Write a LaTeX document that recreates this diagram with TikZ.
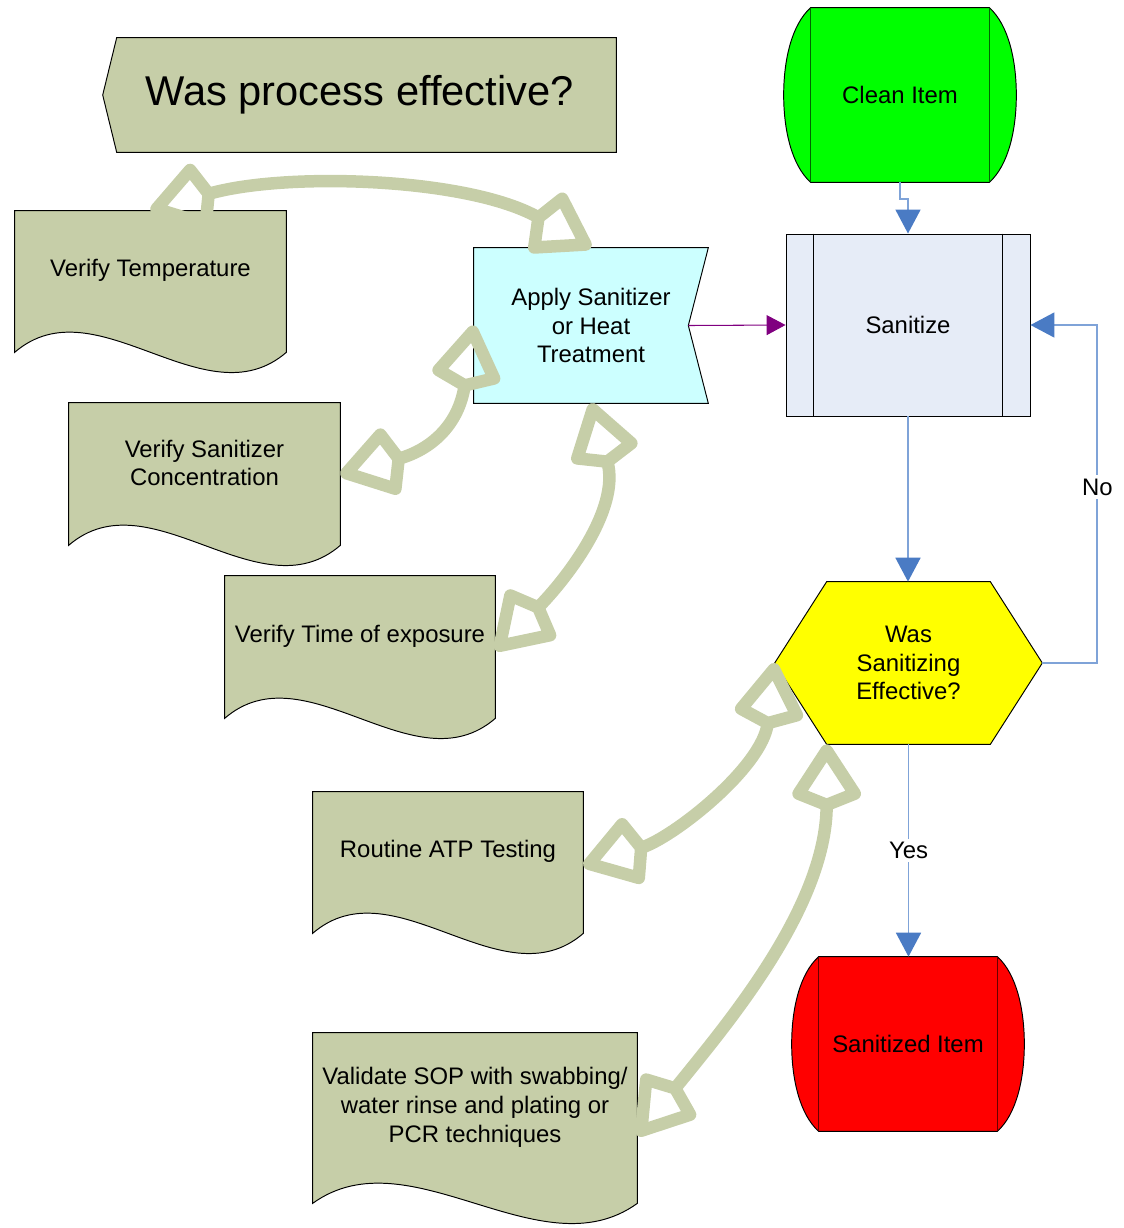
\documentclass[tikz,border=0pt]{standalone}
\usepackage{fontspec}
\setmainfont{Liberation Sans}
\usetikzlibrary{arrows.meta,backgrounds}

\definecolor{olivegrey}{HTML}{C6CEA8}
\definecolor{applycyan}{HTML}{CCFFFF}
\definecolor{sanitizeblue}{HTML}{E6ECF7}
\definecolor{cleangreen}{HTML}{00FF00}
\definecolor{decisionyellow}{HTML}{FFFF00}
\definecolor{itemred}{HTML}{FF0000}
\definecolor{flowblue}{HTML}{7FA3D8}
\definecolor{tipblue}{HTML}{4A7BC4}
\definecolor{treatpurple}{HTML}{800080}

%% terminator outline: bulged ends and two inner bars
\newcommand{\termoutline}[2]{%
  \draw[fill=#2, line width=0.55pt]
    ([xshift=0.54cm]#1.north west) -- ([xshift=-0.54cm]#1.north east)
    .. controls +(19,17) and +(0,-35) .. (#1.east)
    .. controls +(0,35) and +(19,-17) .. ([xshift=-0.54cm]#1.south east)
    -- ([xshift=0.54cm]#1.south west)
    .. controls +(-19,-17) and +(0,35) .. (#1.west)
    .. controls +(0,-35) and +(-19,17) .. ([xshift=0.54cm]#1.north west) -- cycle;
  \draw[black!60!#2, line width=0.8pt]
    ([xshift=0.54cm]#1.north west) -- ([xshift=0.54cm]#1.south west)
    ([xshift=-0.54cm]#1.north east) -- ([xshift=-0.54cm]#1.south east);
}
%% document outline with the wavy bottom edge
\newcommand{\docoutline}[2]{%
  \draw[fill=olivegrey, line width=0.55pt]
    (#1.north west) -- (#1.north east) -- ([yshift=-0.44cm]#1.south east)
    .. controls +(-0.3*#2,70) and +(0.3*#2,-70) .. ([yshift=-0.44cm]#1.south west)
    -- cycle;
}

\begin{document}
\begin{tikzpicture}
[x=0.02cm, y=-0.02cm,
  every node/.style={font=\fontsize{13.6}{16.4}\selectfont, align=center, inner sep=0pt},
  shapedecorate/.style={draw, line width=0.55pt},
  flowdecorate/.style={draw=flowblue, line width=1pt,
    -{Triangle[length=0.48cm, width=0.5cm, color=tipblue]}},
  treatdecorate/.style={draw=treatpurple, line width=0.6pt,
    -{Triangle[length=0.38cm, width=0.4cm]}},
  fatdecorate/.style={draw=olivegrey, line width=0.25cm,
    {Kite[open, round, length=1.45cm, width=1.5cm, inset=0.3cm]}-{Kite[open, round, length=1.45cm, width=1.5cm, inset=0.3cm]}},
  answerdecorate/.style={fill=white, inner sep=2pt}]
\useasboundingbox (0,0) rectangle (1124,1228);

%% main flow
\node (title) at (359.5,95) [minimum width=10.26cm, minimum height=2.28cm,
  font=\fontsize{23.7}{28}\selectfont] {Was process effective?};
\node (clean) at (900,95) [minimum width=4.64cm, minimum height=3.48cm] {Clean Item};
\node (sanitize) at (908,325) [shapedecorate, fill=sanitizeblue,
  minimum width=4.88cm, minimum height=3.64cm] {Sanitize};
\node (apply) at (591,325.5) [minimum width=4.68cm, minimum height=3.1cm]
  {Apply Sanitizer\\or Heat\\Treatment};
\node (hex) at (908.5,663) [minimum width=5.34cm, minimum height=3.24cm]
  {Was\\Sanitizing\\Effective?};
\node (sanitized) at (908,1044) [minimum width=4.64cm, minimum height=3.48cm] {Sanitized Item};

%% documents or checks
\foreach \nodename/\x/\y/\w/\h/\nodetext in {
  temp/150.5/270.5/271/119/{Verify Temperature},
  conc/204.5/463/271/120/{Verify Sanitizer\\Concentration},
  time/360/636/270/120/{Verify Time of exposure},
  atp/448/851.5/270/119/{Routine ATP Testing},
  sop/475/1107/324/148/{Validate SOP with swabbing/\\water rinse and plating or\\PCR techniques}}
{
  \node (\nodename) at (\x,\y) [minimum width=\w*0.02cm, minimum height=\h*0.02cm] {\nodetext};
}

%% shape outlines
\begin{pgfonlayer}{background}
\draw[shapedecorate, fill=olivegrey] (title.west) -- ([xshift=0.28cm]title.north west)
  -- (title.north east) -- (title.south east) -- ([xshift=0.28cm]title.south west) -- cycle;
\draw[shapedecorate, fill=applycyan] (apply.north west) -- (apply.north east)
  -- ([xshift=-0.4cm]apply.east) -- (apply.south east) -- (apply.south west) -- cycle;
\draw[shapedecorate, fill=decisionyellow] (hex.west) -- ([xshift=1.04cm]hex.north west)
  -- ([xshift=-1.04cm]hex.north east) -- (hex.east) -- ([xshift=-1.04cm]hex.south east)
  -- ([xshift=1.04cm]hex.south west) -- cycle;
\termoutline{clean}{cleangreen}
\termoutline{sanitized}{itemred}
\foreach \nodename/\w in {temp/271, conc/271, time/270, atp/270, sop/324}
{
  \docoutline{\nodename}{\w}
}
\end{pgfonlayer}
\draw[shapedecorate] ([xshift=0.55cm]sanitize.north west) -- ([xshift=0.55cm]sanitize.south west)
  ([xshift=-0.55cm]sanitize.north east) -- ([xshift=-0.55cm]sanitize.south east);

\coordinate (notch) at ([xshift=-0.4cm]apply.east);
\coordinate (hexcorner) at ([xshift=1.04cm]hex.south west);

%% flow lines
\draw[flowdecorate] (clean.south) -- ++(0,17) -| (sanitize.north);
\draw[treatdecorate] (notch) -- (sanitize.west);
\draw[flowdecorate] (sanitize.south) -- (sanitize.south |- hex.north);
\draw[flowdecorate] (hex.east) -- ++(55,0) |- node[answerdecorate, pos=0.26] {No} (sanitize.east);
\draw[flowdecorate] (hex.south) -- node[answerdecorate] {Yes} (hex.south |- sanitized.north);

%% check links
\path
\foreach \startnode/\endnode/\ax/\ay/\bx/\by in {apply.north/temp.north/-122/-70/135/-39,
  apply.west/conc.-5/-15/100/90/-25, apply.south/time.-6/30/107/68/-68,
  hex.west/atp.-6/-12/104/90/-28, hexcorner/sop.-10/0/165/84/-105}
{
  (\startnode) edge[fatdecorate, controls={+(\ax,\ay) and +(\bx,\by)}] (\endnode)
};
\end{tikzpicture}
\end{document}
